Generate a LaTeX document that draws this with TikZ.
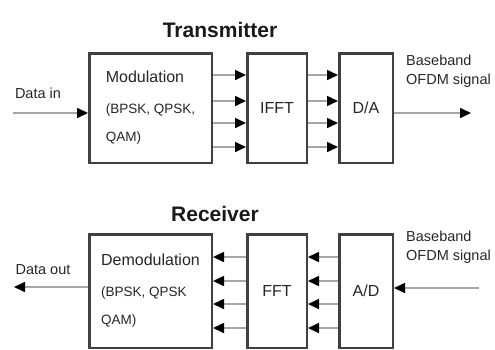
\documentclass[tikz,border=0pt]{standalone}
\usepackage{fontspec}
\setmainfont{Liberation Sans}
\usetikzlibrary{arrows.meta}

\newcommand{\subsz}{\fontsize{13.5}{19}\selectfont}

\begin{document}
\begin{tikzpicture}[
        x=1pt, y=-1pt,
        box/.style={draw=black!75, line width=2.5pt, fill=white, align=left, inner sep=0pt,
            text=black!85, font=\fontsize{16}{19}\selectfont},
        sig/.style={-{Triangle[length=11pt, width=10pt, color=black]}, draw=black!35, line width=1.6pt},
        lbl/.style={text=black!85, align=left, inner sep=0pt, font=\fontsize{14.5}{19}\selectfont},
        title/.style={text=black!90, inner sep=0pt, font=\bfseries\fontsize{21}{24}\selectfont}
    ]
        \useasboundingbox (0,0) rectangle (495,349);

        % transmitter
        \node[title] (txtitle) at (220,30) {Transmitter};
        \node[box, minimum width=122.5pt, minimum height=109.5pt] (mod) at (150.5,108)
            {Modulation\\[12pt]\subsz (BPSK, QPSK,\\[9pt]\subsz QAM)};
        \node[box, minimum width=59.5pt, minimum height=109.5pt] (ifft) at (277,108) {IFFT};
        \node[box, minimum width=53.5pt, minimum height=109.5pt] (da) at (366,108) {D/A};
        \foreach \yy in {75,101,123,147} {
            \draw[sig] (mod.east |- 0,\yy) -- (ifft.west |- 0,\yy);
            \draw[sig] (ifft.east |- 0,\yy) -- (da.west |- 0,\yy);
        }
        \coordinate (datain) at (13,113);
        \node[lbl] (inlbl) at (38,93) {Data in};
        \draw[sig] (datain) -- (mod.west |- datain);
        \coordinate (txout) at (471,113);
        \node[lbl, anchor=north west] (txlbl) at (406,55) {Baseband\\OFDM signal};
        \draw[sig] (da.east |- txout) -- (txout);

        % receiver
        \node[title] (rxtitle) at (215,214) {Receiver};
        \node[box, minimum width=122.5pt, minimum height=113.5pt] (demod) at (150.5,291)
            {Demodulation\\[12pt]\subsz (BPSK, QPSK\\[9pt]\subsz QAM)};
        \node[box, minimum width=59.5pt, minimum height=113.5pt] (fft) at (277,291) {FFT};
        \node[box, minimum width=53.5pt, minimum height=113.5pt] (ad) at (366,291) {A/D};
        \foreach \yy in {257,281,304,328} {
            \draw[sig] (fft.west |- 0,\yy) -- (demod.east |- 0,\yy);
            \draw[sig] (ad.west |- 0,\yy) -- (fft.east |- 0,\yy);
        }
        \coordinate (dataout) at (14,287);
        \node[lbl] (outlbl) at (43,270) {Data out};
        \draw[sig] (demod.west |- dataout) -- (dataout);
        \coordinate (rxin) at (479,288);
        \node[lbl, anchor=north west] (rxlbl) at (406,231) {Baseband\\OFDM signal};
        \draw[sig] (rxin) -- (ad.east |- rxin);
    \end{tikzpicture}
\end{document}
